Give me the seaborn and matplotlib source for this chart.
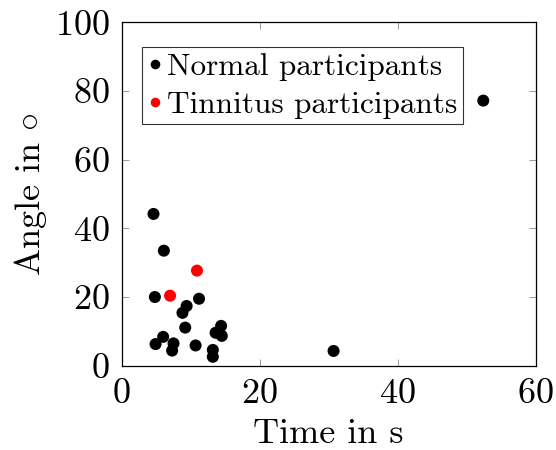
import matplotlib
matplotlib.use("Agg")
import matplotlib.pyplot as plt
import seaborn as sns
import pandas as pd

# Reaction time (s) and angle (deg) per participant
normal_time = [52.4, 30.7, 4.6, 6.1, 4.8, 11.2, 9.4, 8.8, 9.2, 14.4, 13.6, 14.5,
               6.0, 4.9, 7.5, 7.3, 10.7, 13.2, 13.2]
normal_angle = [77.2, 4.3, 44.2, 33.5, 20.0, 19.5, 17.4, 15.4, 11.1, 11.6, 9.6, 8.7,
                8.4, 6.3, 6.5, 4.4, 5.9, 4.6, 2.6]
tinnitus_time = [10.9, 7.0]
tinnitus_angle = [27.7, 20.4]

groups = ["Normal participants", "Tinnitus participants"]
colors = ["black", "red"]

df = pd.DataFrame({
    "time": normal_time + tinnitus_time,
    "angle": normal_angle + tinnitus_angle,
    "group": [groups[0]] * len(normal_time) + [groups[1]] * len(tinnitus_time),
})

sns.set_style("ticks")
plt.rcParams["font.family"] = "serif"
plt.rcParams["font.serif"] = ["cmr10", "DejaVu Serif"]
plt.rcParams["mathtext.fontset"] = "cm"
plt.rcParams["axes.formatter.use_mathtext"] = True
plt.rcParams["text.color"] = "black"
plt.rcParams["axes.labelcolor"] = "black"

fig, ax = plt.subplots(figsize=(5.56, 4.5), dpi=100)
sns.scatterplot(data=df, x="time", y="angle", hue="group", hue_order=groups,
                palette=colors, s=75, edgecolor="none", ax=ax)

ax.set_xlim(0, 60)
ax.set_ylim(0, 100)
ax.set_xticks([0, 20, 40, 60])
ax.set_yticks([0, 20, 40, 60, 80, 100])
ax.tick_params(direction="in", top=True, right=True, length=5, width=0.6,
               color="#888888", labelcolor="black", labelsize=26)
ax.tick_params(axis="y", pad=9)
ax.tick_params(axis="x", pad=9)
for sp in ax.spines.values():
    sp.set_color("black")
    sp.set_linewidth(0.9)

ax.set_xlabel("Time in s", fontsize=26, labelpad=6)
ax.set_ylabel(r"Angle in $\circ$", fontsize=26, labelpad=4)

leg = ax.legend(loc="upper left", bbox_to_anchor=(0.049, 0.928), fontsize=22.5,
                frameon=True, fancybox=False, edgecolor="black",
                handletextpad=0.13, borderpad=0.18, labelspacing=0.33,
                handlelength=0.5, borderaxespad=0, markerscale=0.8)
leg.get_frame().set_linewidth(0.8)

fig.subplots_adjust(left=0.219, right=0.9635, bottom=0.1873, top=0.9504)
fig.savefig("out.png", dpi=100)
